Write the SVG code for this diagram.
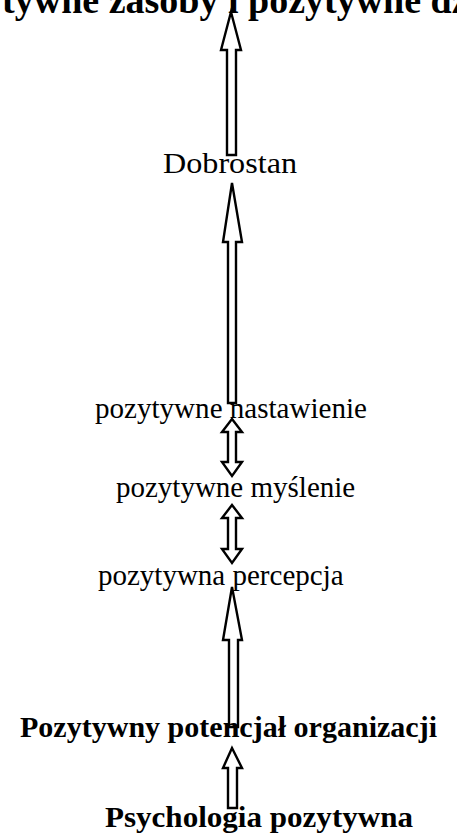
<svg xmlns="http://www.w3.org/2000/svg" width="457" height="838" viewBox="0 0 457 838">
<style>
.t{font-family:"Liberation Serif","Times New Roman",serif;fill:#000}
.n{font-size:29px}
.b{font-size:30px;font-weight:bold}
.a{fill:#fff;stroke:#000;stroke-width:2.4;stroke-linejoin:miter}
</style>
<rect width="457" height="838" fill="#fff"/>
<g id="connectors">
<path class="a" d="M231,12 L241,50 L236,50 L236,155 L227,155 L227,50 L221,50 Z"/>
<path class="a" d="M232,183 L242,242 L236,242 L236,403 L228,403 L228,242 L223,242 Z"/>
<path class="a" d="M232,419 L242,432 L236,432 L236,462 L242,462 L232,476 L222,462 L228,462 L228,432 L222,432 Z"/>
<path class="a" d="M232,505 L242,518 L236,518 L236,549 L242,549 L232,563 L222,549 L228,549 L228,518 L222,518 Z"/>
<path class="a" d="M232,587 L242,640 L238,640 L238,727 L229,727 L229,640 L223,640 Z"/>
<path class="a" d="M232,748 L242,768 L237,768 L237,808 L228,808 L228,768 L223,768 Z"/>
</g>
<g id="n-top"><text class="t b" x="-76" y="13" style="font-size:38px">Pozytywne zasoby i pozytywne działania</text></g>
<g id="n-dobrostan"><text class="t n" x="163" y="173" textLength="134" lengthAdjust="spacingAndGlyphs">Dobrostan</text></g>
<g id="n-nastawienie"><text class="t n" x="95" y="418" textLength="272" lengthAdjust="spacingAndGlyphs">pozytywne nastawienie</text></g>
<g id="n-myslenie"><text class="t n" x="116" y="497">pozytywne myślenie</text></g>
<g id="n-percepcja"><text class="t n" x="98" y="585">pozytywna percepcja</text></g>
<g id="n-potencjal"><text class="t b" x="20" y="737" textLength="417" lengthAdjust="spacingAndGlyphs">Pozytywny potencjał organizacji</text></g>
<g id="n-psychologia"><text class="t b" x="105" y="827" textLength="308" lengthAdjust="spacingAndGlyphs">Psychologia pozytywna</text></g>
</svg>
